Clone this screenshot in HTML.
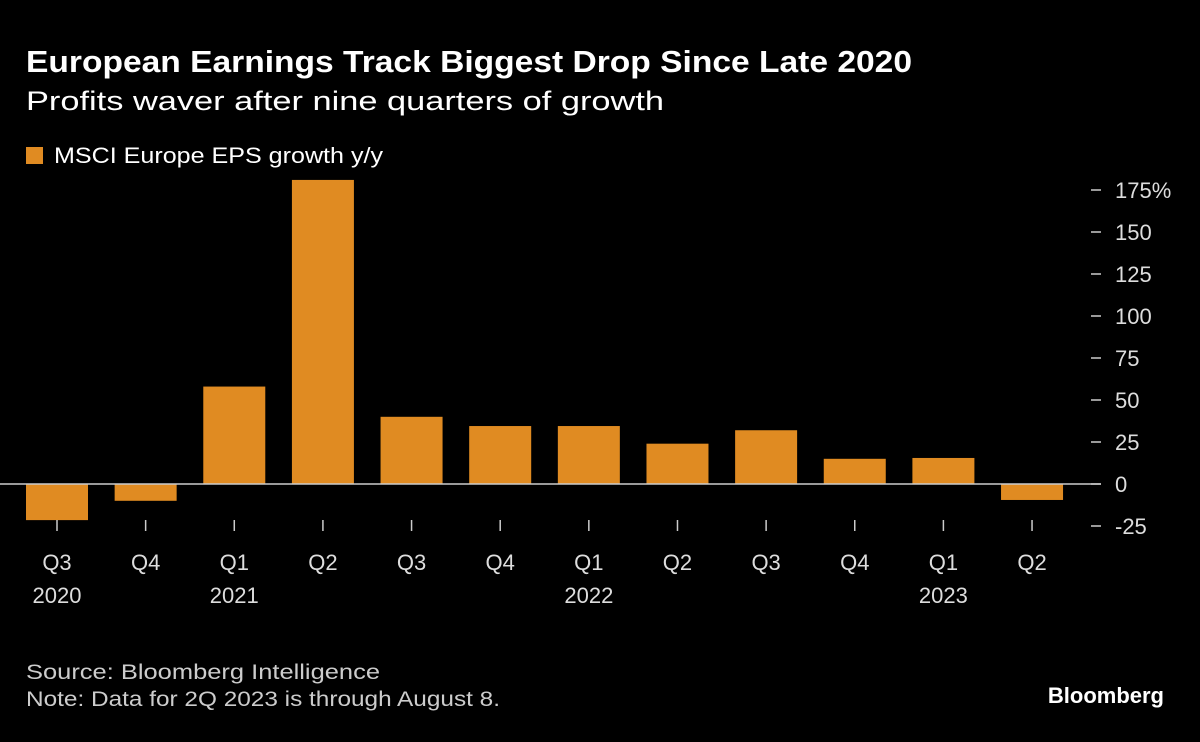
<!DOCTYPE html>
<html><head><meta charset="utf-8"><style>
body{margin:0;background:#000;width:1200px;height:737px;overflow:hidden;font-family:"Liberation Sans",sans-serif;color:#fff}
</style></head><body>
<svg width="1200" height="737" xmlns="http://www.w3.org/2000/svg">
<rect width="1200" height="737" fill="#000"/>
<text x="26" y="72" font-size="31" font-weight="bold" fill="#fff" textLength="886" lengthAdjust="spacingAndGlyphs">European Earnings Track Biggest Drop Since Late 2020</text>
<text x="26" y="110" font-size="27" fill="#fff" textLength="638" lengthAdjust="spacingAndGlyphs">Profits waver after nine quarters of growth</text>
<rect x="26" y="147" width="17" height="17" fill="#e08b22"/>
<text x="54" y="163" font-size="22" fill="#fff" textLength="329" lengthAdjust="spacingAndGlyphs">MSCI Europe EPS growth y/y</text>
<g id="plot"></g>
<text x="26" y="679" font-size="21" fill="#ccc" textLength="354" lengthAdjust="spacingAndGlyphs">Source: Bloomberg Intelligence</text>
<text x="26" y="706" font-size="21" fill="#ccc" textLength="474" lengthAdjust="spacingAndGlyphs">Note: Data for 2Q 2023 is through August 8.</text>
<text x="1164" y="703" font-size="22" font-weight="bold" fill="#fff" text-anchor="end">Bloomberg</text>
</svg>
<script>
const quarters=["Q3","Q4","Q1","Q2","Q3","Q4","Q1","Q2","Q3","Q4","Q1","Q2"];
const years=["2020","","2021","","","","2022","","","","2023",""];
const values=[-21.5,-10,58,181,40,34.5,34.5,24,32,15,15.5,-9.5];
const yTicks=[175,150,125,100,75,50,25,0,-25];
const NS="http://www.w3.org/2000/svg";
const g=document.getElementById('plot');
const y=v=>484-v*1.68;
const xc=i=>57+i*88.64;
const bw=62;
function mk(t,a){const e=document.createElementNS(NS,t);for(const k in a)e.setAttribute(k,a[k]);g.appendChild(e);return e;}
values.forEach((v,i)=>{
  const r=mk('rect',{x:xc(i)-bw/2,y:Math.min(y(v),y(0)),width:bw,height:Math.abs(y(v)-y(0)),fill:'#e08b22'});
  
  
});
const zl=mk('line',{x1:0,x2:1101,y1:y(0),y2:y(0),stroke:'#ccc','stroke-width':1.5});


yTicks.forEach(t=>{
  const l=mk('line',{x1:1091,x2:1101,y1:y(t),y2:y(t),stroke:'#ccc','stroke-width':1.5});
  
  
  const tx=mk('text',{x:1115,y:y(t)+8,'font-size':22,fill:'#ddd'});
  tx.textContent=t+(t===175?'%':'');
  
  
});
quarters.forEach((q,i)=>{
  const l=mk('line',{x1:xc(i),x2:xc(i),y1:520,y2:531,stroke:'#ccc','stroke-width':1.5});
  
  
  const t=mk('text',{x:xc(i),y:570,'font-size':22,fill:'#ddd','text-anchor':'middle'});
  t.textContent=q;
  
  
  if(years[i]){
    const yt=mk('text',{x:xc(i),y:603,'font-size':22,fill:'#ddd','text-anchor':'middle'});
    yt.textContent=years[i];
    
    
  }
});
</script>
</body></html>
